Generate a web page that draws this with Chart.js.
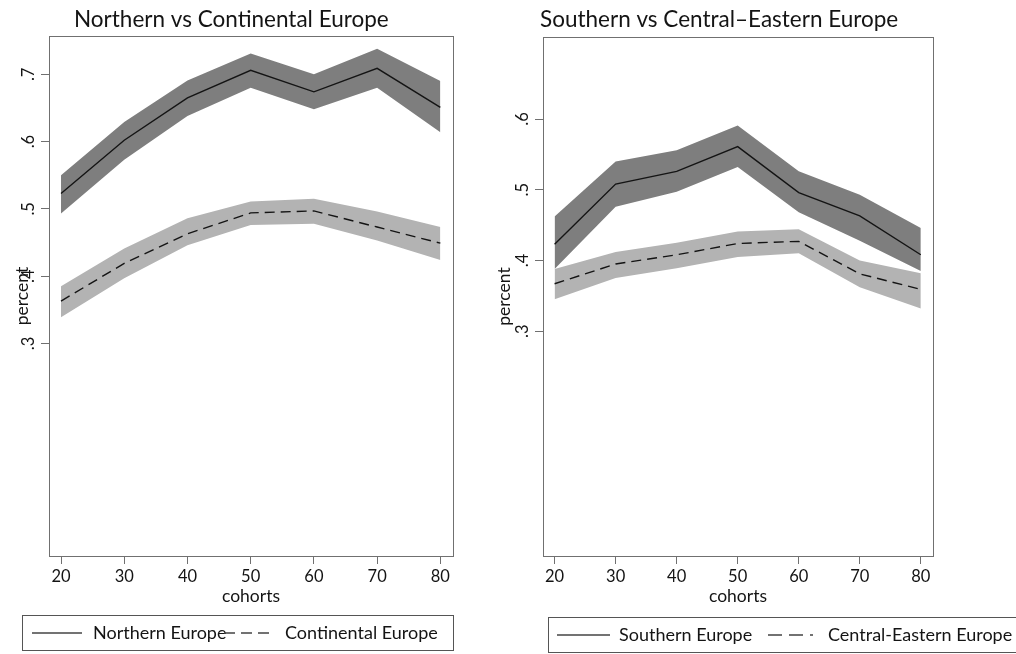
<!DOCTYPE html>
<html>
<head>
<meta charset="utf-8">
<script src="https://cdn.jsdelivr.net/npm/chart.js@4.4.1/dist/chart.umd.min.js"></script>
<style>
  html, body { margin: 0; padding: 0; background: #fff; }
  #wrap { position: relative; width: 1016px; height: 654px; overflow: hidden; }
  canvas { position: absolute; top: 0; }
  #left { left: 0; }
  #right { left: 484px; }
</style>
</head>
<body>
<div id="wrap">
  <canvas id="left" width="484" height="654"></canvas>
  <canvas id="right" width="532" height="654"></canvas>
</div>
<script>
// cohorts on the x axis
const cohorts = [20, 30, 40, 50, 60, 70, 80];
const xTicks = [20, 30, 40, 50, 60, 70, 80];
const yTicksLeft = [0.3, 0.4, 0.5, 0.6, 0.7];
const yTickLabelsLeft = ['.3', '.4', '.5', '.6', '.7'];
const yTicksRight = [0.3, 0.4, 0.5, 0.6];
const yTickLabelsRight = ['.3', '.4', '.5', '.6'];

// left panel
const northern = [0.523, 0.602, 0.665, 0.706, 0.674, 0.709, 0.651];
const northernHi = [0.550, 0.629, 0.691, 0.731, 0.700, 0.738, 0.690];
const northernLo = [0.493, 0.573, 0.638, 0.680, 0.648, 0.680, 0.614];
const continental = [0.363, 0.419, 0.463, 0.494, 0.497, 0.473, 0.449];
const continentalHi = [0.385, 0.441, 0.486, 0.511, 0.515, 0.496, 0.473];
const continentalLo = [0.339, 0.397, 0.446, 0.476, 0.478, 0.453, 0.424];

// right panel
const southern = [0.423, 0.508, 0.526, 0.561, 0.496, 0.463, 0.408];
const southernHi = [0.462, 0.540, 0.556, 0.591, 0.526, 0.493, 0.446];
const southernLo = [0.388, 0.476, 0.497, 0.532, 0.468, 0.428, 0.385];
const centralEast = [0.367, 0.395, 0.408, 0.424, 0.427, 0.381, 0.359];
const centralEastHi = [0.388, 0.412, 0.425, 0.441, 0.444, 0.400, 0.382];
const centralEastLo = [0.345, 0.375, 0.389, 0.405, 0.410, 0.362, 0.332];

const FONT = "Lato, 'Open Sans', sans-serif";
const DARK = '#7e7e7e';
const LIGHT = '#b3b3b3';
const INK = '#141414';
const AXIS = '#707070';
const NONE = 'rgba(0,0,0,0)';

const pts = arr => arr.map((v, i) => ({ x: cohorts[i], y: v }));

// order matters: index 0 is painted last (on top)
function makeDatasets(nameA, a, aHi, aLo, nameB, b, bHi, bLo) {
  return [
    { label: nameA, data: pts(a), borderColor: INK, borderWidth: 1.4, fill: false },
    { label: nameB, data: pts(b), borderColor: INK, borderWidth: 1.4, borderDash: [10, 6], fill: false },
    { label: nameB + ' hi', data: pts(bHi), borderColor: NONE, borderWidth: 1, backgroundColor: LIGHT, fill: '+1' },
    { label: nameB + ' lo', data: pts(bLo), borderColor: NONE, borderWidth: 1, fill: false },
    { label: nameA + ' hi', data: pts(aHi), borderColor: NONE, borderWidth: 1, backgroundColor: DARK, fill: '+1' },
    { label: nameA + ' lo', data: pts(aLo), borderColor: NONE, borderWidth: 1, fill: false }
  ];
}

function makeScales(yMin, yMax, ticks, labels, yWidth, titlePad) {
  return {
    x: {
      type: 'linear', min: 18.1, max: 82,
      afterBuildTicks: s => { s.ticks = xTicks.map(v => ({ value: v })); },
      afterFit: s => { s.height = 58; },
      grid: { drawOnChartArea: false, drawTicks: true, tickLength: 8, color: AXIS },
      border: { display: true, color: AXIS },
      ticks: { font: { family: FONT, size: 16.5 }, color: INK, padding: 3, maxRotation: 0, minRotation: 0 },
      title: { display: true, text: 'cohorts', color: INK, font: { family: FONT, size: 17.5 }, padding: { top: 0, bottom: 7 } }
    },
    y: {
      type: 'linear', min: yMin, max: yMax,
      afterBuildTicks: s => { s.ticks = ticks.map(v => ({ value: v })); },
      afterFit: s => { s.width = yWidth; },
      grid: { drawOnChartArea: false, drawTicks: true, tickLength: 8, color: AXIS },
      border: { display: true, color: AXIS },
      ticks: {
        font: { family: FONT, size: 16.5 }, color: INK, padding: 6,
        minRotation: 90, maxRotation: 90, crossAlign: 'center',
        callback: (v, i) => labels[i]
      },
      title: { display: true, text: 'percent', color: INK, font: { family: FONT, size: 17.5 }, padding: { top: titlePad, bottom: 0 } }
    }
  };
}

const decor = {
  id: 'decor',
  afterDraw(chart, args, o) {
    const { ctx, chartArea: a } = chart;
    ctx.save();
    ctx.strokeStyle = AXIS;
    ctx.lineWidth = 1;
    ctx.strokeRect(Math.round(a.left) + 0.5, Math.round(a.top) + 0.5, Math.round(a.right - a.left), Math.round(a.bottom - a.top));

    ctx.fillStyle = INK;
    ctx.textBaseline = 'alphabetic';
    ctx.textAlign = 'left';
    ctx.font = `22.5px ${FONT}`;
    ctx.fillText(o.title, o.titleX, o.titleY);

    const [bx, by, bw, bh] = o.box;
    ctx.strokeStyle = '#555';
    ctx.strokeRect(bx + 0.5, by + 0.5, bw, bh);
    ctx.font = `18px ${FONT}`;
    o.items.forEach(it => {
      ctx.beginPath();
      ctx.strokeStyle = '#444';
      ctx.lineWidth = 1.4;
      ctx.setLineDash(it.dash);
      ctx.moveTo(it.x0, it.y);
      ctx.lineTo(it.x1, it.y);
      ctx.stroke();
      ctx.setLineDash([]);
      ctx.fillText(it.text, it.tx, it.y + 6);
    });
    ctx.restore();
  }
};

function makeChart(id, sets, scales, padding, decorOpts) {
  return new Chart(document.getElementById(id), {
    type: 'line',
    data: { datasets: sets },
    options: {
      responsive: false,
      animation: false,
      layout: { padding },
      elements: { point: { radius: 0 }, line: { tension: 0 } },
      plugins: { legend: { display: false }, tooltip: { enabled: false }, decor: decorOpts },
      scales
    },
    plugins: [decor]
  });
}

makeChart('left',
  makeDatasets('Northern Europe', northern, northernHi, northernLo, 'Continental Europe', continental, continentalHi, continentalLo),
  makeScales(-0.016, 0.757, yTicksLeft, yTickLabelsLeft, 49, 12),
  { left: 0, top: 36, right: 31, bottom: 40 },
  {
    title: 'Northern vs Continental Europe', titleX: 74, titleY: 27,
    box: [22, 615, 431, 35],
    items: [
      { text: 'Northern Europe', x0: 32, x1: 82, y: 633, tx: 93, dash: [] },
      { text: 'Continental Europe', x0: 224, x1: 273, y: 633, tx: 285, dash: [11, 6] }
    ]
  });

makeChart('right',
  makeDatasets('Southern Europe', southern, southernHi, southernLo, 'Central-Eastern Europe', centralEast, centralEastHi, centralEastLo),
  makeScales(-0.018, 0.716, yTicksRight, yTickLabelsRight, 59, 10),
  { left: 0, top: 37, right: 83, bottom: 40 },
  {
    title: 'Southern vs Central\u2013Eastern Europe', titleX: 56, titleY: 27,
    box: [64, 617, 600, 35],
    items: [
      { text: 'Southern Europe', x0: 73, x1: 126, y: 635, tx: 135, dash: [] },
      { text: 'Central-Eastern Europe', x0: 284, x1: 329, y: 635, tx: 344, dash: [14, 7] }
    ]
  });
</script>
</body>
</html>
